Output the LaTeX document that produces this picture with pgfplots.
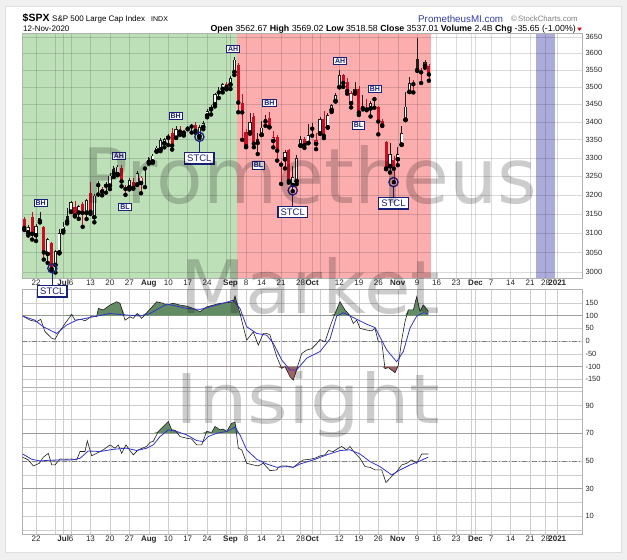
\documentclass[border=0pt]{standalone}
\usepackage{fontspec}
\setmainfont{Liberation Sans}
\newfontfamily\wmfont{DejaVu Sans}
\usepackage{graphicx}
\usepackage{pgfplots}
\pgfplotsset{compat=1.18}
\usepackage{pgfplotstable}
\definecolor{bgc}{RGB}{240,240,240}
\definecolor{shgreen}{RGB}{190,224,184}
\definecolor{shred}{RGB}{252,174,174}
\definecolor{shblue}{RGB}{172,172,218}
\definecolor{cred}{RGB}{200,16,36}
\definecolor{cblk}{RGB}{30,30,30}
\definecolor{navy}{RGB}{24,32,120}
\definecolor{fillg}{RGB}{100,140,100}
\definecolor{fillr}{RGB}{160,100,100}
\definecolor{maBlue}{RGB}{50,50,200}
\definecolor{gridc}{RGB}{205,205,205}
\definecolor{pmblue}{RGB}{50,60,160}

\pgfplotstableread{
x o h l c t
-3 3136.1 3141.2 3108.0 3113.5 3
-2 3101.6 3120.0 3093.5 3115.3 0
-1 3140.3 3155.5 3083.1 3097.7 3
0 3094.4 3120.9 3079.4 3117.9 0
1 3138.7 3154.9 3127.1 3131.3 1
2 3114.4 3115.0 3032.1 3050.3 3
3 3046.6 3086.2 3024.0 3083.8 0
4 3073.2 3073.7 3004.6 3009.1 3
5 3018.6 3053.9 2999.7 3053.2 0
6 3050.2 3111.5 3047.8 3100.3 0
7 3105.9 3128.4 3101.2 3115.9 0
8 3143.6 3165.8 3124.5 3130.0 1
9 3155.3 3182.6 3155.3 3179.7 0
10 3166.4 3184.2 3142.9 3145.3 3
11 3153.1 3171.8 3136.5 3169.9 0
12 3176.2 3179.8 3115.7 3152.1 3
13 3152.5 3186.8 3136.2 3185.0 0
14 3205.1 3235.3 3149.4 3155.2 3
15 3141.1 3200.9 3127.7 3197.5 0
16 3225.9 3238.3 3200.8 3226.6 0
17 3208.4 3220.4 3198.6 3215.6 2
18 3224.2 3233.5 3205.7 3224.7 0
19 3224.3 3258.6 3215.2 3251.8 0
20 3268.5 3277.3 3247.8 3257.3 1
21 3254.9 3279.3 3253.1 3276.0 0
22 3271.6 3279.9 3222.7 3235.7 3
23 3218.6 3227.3 3200.0 3215.6 3
24 3219.8 3241.4 3214.3 3239.4 0
25 3234.3 3243.7 3216.2 3218.4 3
26 3227.2 3264.7 3227.2 3258.4 0
27 3231.8 3250.9 3204.1 3246.2 2
28 3270.5 3272.2 3220.3 3271.1 0
29 3288.3 3302.7 3284.5 3294.6 0
30 3289.9 3306.8 3286.4 3306.5 0
31 3317.4 3330.8 3317.4 3327.8 0
32 3323.2 3351.0 3318.1 3349.2 0
33 3340.1 3352.5 3328.7 3351.3 0
34 3356.0 3363.3 3335.4 3360.5 0
35 3370.3 3382.0 3322.7 3333.7 3
36 3355.5 3387.9 3355.5 3380.4 0
37 3372.9 3387.2 3363.4 3373.4 2
38 3368.7 3378.5 3361.6 3372.9 2
39 3380.9 3387.6 3379.2 3382.0 0
40 3387.0 3395.1 3370.2 3389.8 0
41 3392.5 3399.5 3369.7 3374.9 3
42 3360.5 3390.8 3354.7 3385.5 0
43 3386.0 3399.9 3379.3 3397.2 0
44 3418.1 3432.1 3413.1 3431.3 0
45 3435.9 3444.2 3421.1 3443.6 0
46 3450.0 3481.1 3444.2 3478.7 0
47 3485.1 3501.4 3468.4 3484.6 1
48 3494.7 3509.2 3484.3 3508.0 0
49 3509.7 3514.8 3493.3 3500.3 3
50 3507.4 3528.0 3494.6 3526.7 0
51 3543.8 3588.1 3535.2 3580.8 0
52 3564.7 3564.9 3427.4 3455.1 3
53 3453.6 3479.2 3349.6 3427.0 3
54 3371.9 3380.0 3329.3 3331.8 3
55 3369.8 3424.8 3366.8 3399.0 0
56 3412.6 3425.3 3329.3 3339.2 3
57 3352.7 3369.0 3310.5 3341.0 1
58 3363.6 3402.9 3363.6 3383.5 0
59 3407.7 3419.5 3389.3 3401.2 1
60 3411.2 3428.9 3384.5 3385.5 3
61 3346.9 3375.2 3328.8 3357.0 2
62 3357.4 3362.3 3292.4 3319.5 3
63 3285.6 3285.6 3229.1 3281.1 3
64 3295.8 3320.3 3271.0 3315.6 0
65 3320.1 3323.4 3232.6 3236.9 3
66 3226.1 3278.7 3209.5 3246.6 0
67 3236.7 3306.9 3228.4 3298.5 0
68 3333.9 3360.7 3332.9 3351.6 0
69 3350.9 3357.9 3327.5 3335.5 3
70 3341.2 3393.6 3340.5 3363.0 0
71 3385.9 3397.2 3361.4 3380.8 1
72 3338.9 3369.1 3323.7 3348.4 2
73 3367.3 3409.6 3367.3 3408.6 0
74 3408.7 3431.6 3354.5 3361.0 3
75 3384.6 3426.3 3384.6 3419.4 0
76 3434.3 3447.3 3428.2 3446.8 0
77 3459.7 3482.3 3458.1 3477.1 0
78 3500.0 3549.9 3499.6 3534.2 0
79 3534.0 3534.0 3500.9 3511.9 3
80 3515.5 3527.9 3480.6 3488.7 3
81 3453.7 3489.1 3441.4 3483.3 2
82 3493.5 3515.8 3480.5 3483.8 1
83 3493.7 3502.4 3419.9 3426.9 3
84 3439.4 3476.9 3435.7 3443.1 0
85 3439.9 3464.9 3433.1 3435.6 3
86 3438.5 3460.5 3415.3 3453.5 0
87 3464.9 3466.5 3440.5 3465.4 0
88 3441.4 3441.4 3364.9 3401.0 3
89 3403.2 3409.5 3388.7 3390.7 3
90 3342.5 3342.5 3268.9 3271.0 3
91 3277.2 3341.1 3259.8 3310.1 0
92 3293.6 3304.9 3233.9 3270.0 3
93 3296.2 3330.1 3279.7 3310.2 0
94 3336.3 3389.5 3336.3 3369.2 0
95 3406.5 3486.3 3405.2 3443.4 0
96 3485.7 3529.1 3485.7 3510.5 0
97 3508.3 3521.6 3484.3 3509.4 2
98 3583.0 3646.0 3547.5 3550.5 1
99 3543.3 3557.2 3511.9 3545.5 2
100 3563.2 3581.2 3557.0 3572.7 0
101 3562.7 3569.0 3518.6 3537.0 3
}\candles

\pgfplotstableread{
x y
-3.42 98
-1.54 82
0.18 76
1.21 85
2.31 37
4.04 11
4.88 7
5.73 30
7.46 69
9.18 104
10.03 82
11.75 85
12.6 79
14.32 98
15.6 95
16.02 128
17.3 122
19.02 141
20.75 154
21.59 148
22.88 82
24.16 95
25.01 89
26.04 108
27.17 89
28.46 111
31.03 154
32.65 148
33.6 141
35.22 148
37.02 141
38.74 137
40.36 128
42.16 115
43.88 134
47.3 148
49.02 150
50.72 154
51.16 176
52.44 109
53.29 56
54.16 4
55.86 36
57.15 -16
58.43 30
59.31 30
60.15 24
61.88 -61
63.16 -107
64.01 -100
65.3 -140
66.14 -153
67.43 -90
68.3 -49
69.59 -35
70.87 -30
72.16 -10
73.01 6
74.29 -3
75.58 56
76.86 108
78.15 154
79.43 122
80.72 100
81.57 69
82.44 82
83.29 50
85.01 43
86.3 40
87.15 50
88 -3
88.87 -3
89.72 -108
90.57 -104
91.44 -114
92.29 -124
93.14 -94
94.01 4
94.86 76
95.71 122
97 122
97.87 174
98.71 117
99.56 141
100.85 117
}\cciK

\pgfplotstableread{
x y
-3.42 98
-0.33 82
1.88 56
5.32 30
7.89 63
10.46 82
14.74 95
19.02 108
23.32 102
26.74 98
29.31 108
33.6 145
38.74 128
42.16 124
46.45 141
50.72 160
52.44 128
54.16 56
56.74 30
59.31 23
61.01 -9
63.16 -74
65.3 -113
67.02 -113
69.59 -67
73.01 -41
75.58 8
77.3 98
79 111
81.57 92
85.01 66
87.15 53
90.17 -35
92.72 -81
94.43 -41
96.14 51
97.87 98
99.56 111
100.85 107
}\cciB

\pgfplotstableread{
x y
-3.42 52.7
-1.98 50.7
-0.69 46.4
0.85 48.3
1.88 52.7
3.16 55.5
4.04 47.1
4.88 47.1
6.17 51.4
7.89 51.2
9.18 51.4
10.46 50.7
11.31 56.8
12.6 56.8
13.19 64.5
14.32 53.7
16.02 56.1
17.3 58
19.02 61.6
20.31 59.2
21.16 61.6
22.03 55.5
23.14 61.6
24.16 57.5
25.01 54.4
26.3 58
28.46 60.5
29.31 63.4
30.15 64.2
31.44 71.3
32.72 74.9
34.01 78.5
34.88 72.5
35.73 72.2
37.02 67.6
38.74 66.4
40.03 65.8
41.31 61.6
42.6 61.6
43.88 71.3
45.17 70.6
46.02 74.9
47.3 72.5
48.15 73
49.02 71.3
50.31 77.3
51.16 77.8
52.01 59.2
52.88 58
54.16 48.3
55.86 47.1
57.15 46.4
58.43 48.3
60.15 43
61.88 43.5
62.29 45.4
63.16 46.4
64.45 46.4
66.14 45.4
67.43 48.3
68.71 50.7
70.44 51.2
71.72 52
73.01 53.6
74.29 54.4
75.14 57.5
76.43 56.8
77.71 59.2
78.59 60.4
79.87 58
80.72 60.4
82.01 55.5
83.29 51.9
84.58 45.9
85.86 45.4
87.15 43.5
88.87 43.5
89.97 34.4
91 37.5
92.72 42.3
94.01 47.1
95.3 48.3
96.58 50.7
97.87 48.3
99.15 55
100.85 55
}\rsiK

\pgfplotstableread{
x y
-3.42 55
-1.1 51.2
1.03 50
3.6 50.5
6.17 50.7
9.18 50.7
11.31 51.9
13.44 57.2
16.45 56.8
19.87 58.4
23.32 59.2
25.89 57.5
28.46 59.2
30.15 61.6
31.88 67.6
34.01 72.5
36.17 71.3
38.74 68.8
41.31 64.7
43.01 64
44.29 67.6
46.45 70
49.02 71.3
51.16 74.4
52.44 68.8
54.16 58
56.74 51.2
59.31 47.8
61.88 45.4
64.45 45.9
66.14 45.4
67.87 47.8
71.29 50.7
74.73 54.4
78.15 57.5
80.72 58
83.29 55
85.86 49.5
88.43 45.9
91.44 39.9
93.57 43.5
96.14 47.1
98.28 49.5
100.85 52.7
}\rsiB

\pgfplotsset{
  panel/.style={
    scale only axis, width=560pt, set layers,
    xmin=-3.6, xmax=140.36,
    axis line style={draw=gray!60},
    major tick length=0pt, minor tick length=0pt,
    grid=major,
    grid style={gridc, line width=0.45pt},
    yticklabel pos=right,
    yticklabel style={font=\fontsize{7.5}{9}\selectfont, text=black!85},
    xticklabel style={font=\fontsize{8}{9}\selectfont, text=black!85, inner sep=1.5pt},
    /pgf/number format/assume math mode=true,
    xtick={0,7,9,14,19,24,29,34,39,44,50,54,58,63,68,71,78,83,88,93,98,103,108,113,117,122,127,131,134},
    extra x ticks={5,49,73,112},
    extra x tick labels={,,,},
    extra x tick style={grid=major},
  },
  datelab/.style={
    xticklabels={22,\textbf{Jul},6,13,20,27,\textbf{Aug},10,17,24,\textbf{Sep},8,14,21,28,\textbf{Oct},12,19,26,\textbf{Nov},9,16,23,\textbf{Dec},7,14,21,28,\textbf{2021}},
  },
}

\begin{document}
\begin{tikzpicture}
% grey surround (frame only, the card area stays white page)
\fill[bgc] (0pt,0pt) rectangle (627pt,-6pt);
\fill[bgc] (0pt,-552pt) rectangle (627pt,-560pt);
\fill[bgc] (0pt,-6pt) rectangle (5pt,-552pt);
\fill[bgc] (621pt,-6pt) rectangle (627pt,-552pt);
\draw[gray!25, line width=0.5pt] (5pt,-6pt) rectangle (621pt,-552pt);

% ---------- price panel ----------
\begin{axis}[panel, datelab, at={(22pt,-33pt)}, anchor=north west, height=245pt,
  ymode=log, ymin=2986, ymax=3661, clip=false,
  grid style={black, opacity=0.14, line width=0.45pt},
  ytick={3000,3050,3100,3150,3200,3250,3300,3350,3400,3450,3500,3550,3600,3650},
  yticklabels={3000,3050,3100,3150,3200,3250,3300,3350,3400,3450,3500,3550,3600,3650}]
\addplot[on layer=axis background, draw=none, fill=shgreen, forget plot] coordinates {(-3.6,2986) (51.7,2986) (51.7,3661) (-3.6,3661)};
\addplot[on layer=axis background, draw=none, fill=shred, forget plot] coordinates {(51.7,2986) (101.5,2986) (101.5,3661) (51.7,3661)};
\addplot[on layer=axis background, draw=none, fill=shblue, forget plot] coordinates {(128.5,2986) (133.4,2986) (133.4,3661) (128.5,3661)};
% wicks
\addplot[only marks, mark=none, forget plot, restrict expr to domain={\thisrow{t}}{0:1},
  error bars/.cd, y dir=plus, y explicit, error mark=none,
  error bar style={line width=0.7pt, cblk}]
  table[x=x, y=l, y error expr=\thisrow{h}-\thisrow{l}] {\candles};
\addplot[only marks, mark=none, forget plot, restrict expr to domain={\thisrow{t}}{2:3},
  error bars/.cd, y dir=plus, y explicit, error mark=none,
  error bar style={line width=0.7pt, cred}]
  table[x=x, y=l, y error expr=\thisrow{h}-\thisrow{l}] {\candles};
% bodies
\addplot[only marks, mark=none, forget plot, restrict expr to domain={\thisrow{t}}{0:1},
  error bars/.cd, y dir=both, y explicit, error mark=-,
  error mark options={cblk, line width=0.6pt, mark size=1.6pt},
  error bar style={line width=3.2pt, cblk}]
  table[x=x, y expr={min(\thisrow{o},\thisrow{c})}, y error plus expr={abs(\thisrow{o}-\thisrow{c})}, y error minus expr=0] {\candles};
\addplot[only marks, mark=none, forget plot, restrict expr to domain={\thisrow{t}}{2:3},
  error bars/.cd, y dir=both, y explicit, error mark=-,
  error mark options={cred, line width=0.6pt, mark size=1.6pt},
  error bar style={line width=3.2pt, cred}]
  table[x=x, y expr={min(\thisrow{o},\thisrow{c})}, y error plus expr={abs(\thisrow{o}-\thisrow{c})}, y error minus expr=0] {\candles};
% hollow interiors
\addplot[only marks, mark=none, forget plot,
  restrict expr to domain={(mod(\thisrow{t},2)==0)*(abs(\thisrow{o}-\thisrow{c})>4)}{1:1},
  error bars/.cd, y dir=plus, y explicit, error mark=none,
  error bar style={line width=1.7pt, white, shorten <=0.7pt, shorten >=0.7pt}]
  table[x=x, y expr={min(\thisrow{o},\thisrow{c})}, y error expr={abs(\thisrow{o}-\thisrow{c})}] {\candles};
% STCL connectors
\addplot[navy, line width=1.2pt, forget plot] coordinates {(4.2,2998.8) (4.2,2953)};
\addplot[navy, line width=1.2pt, forget plot] coordinates {(42,3345.8) (42,3298.5)};
\addplot[navy, line width=1.2pt, forget plot] coordinates {(66,3199.8) (66,3155)};
\addplot[navy, line width=1.2pt, forget plot] coordinates {(91.9,3222) (91.9,3177.3)};
\addplot[only marks, mark=o, mark size=4.6pt, mark options={navy, line width=1.3pt}, forget plot]
  coordinates {(4.2,3010) (42,3358.3) (66,3211.8) (91.9,3234)};
% labels
\addplot[only marks, mark=none, forget plot, nodes near coords, point meta=explicit symbolic,
  every node near coord/.style={anchor=center, draw=navy, line width=0.8pt, fill=white, text=navy,
    font=\fontsize{7}{8}\selectfont\bfseries, inner xsep=1.6pt, inner ysep=1.3pt}]
  table[x=x, y=y, meta=lab] {
x y lab
1.2 3178.9 BH
21.3 3304.8 AH
22.9 3168.3 BL
35.9 3416.5 BH
50.7 3612.5 AH
57.2 3279.3 BL
60 3454.6 BH
78.2 3576.6 AH
82.9 3390 BL
87.1 3494.9 BH
};
\addplot[only marks, mark=none, forget plot, nodes near coords, point meta=explicit symbolic,
  every node near coord/.style={anchor=center, draw=navy, line width=1.3pt, fill=white, text=navy,
    font=\fontsize{9.5}{11}\selectfont, inner xsep=2.6pt, inner ysep=2.2pt}]
  table[x=x, y=y, meta=lab] {
x y lab
4.2 2953 STCL
42 3298.5 STCL
66 3155 STCL
91.9 3177.3 STCL
};
\end{axis}

% ---------- CCI panel ----------
\begin{axis}[panel, at={(22pt,-289pt)}, anchor=north west, height=98pt,
  ymin=-180, ymax=204, ytick={-150,-100,-50,0,50,100,150}, xticklabel={\relax}]
\addplot[gray!75, line width=0.9pt, forget plot] coordinates {(-3.6,100) (140.36,100)};
\addplot[gray!75, line width=0.9pt, forget plot] coordinates {(-3.6,-100) (140.36,-100)};
\addplot[gray, line width=0.6pt, dash pattern=on 5pt off 2pt on 1pt off 2pt, forget plot] coordinates {(-3.6,0) (140.36,0)};
% zones beyond +100 / -100
\addplot[fill=fillg, draw=none, forget plot] table[x=x, y expr={max(\thisrow{y},100)}] {\cciK}
  -- (axis cs:100.85,100) -- (axis cs:-3.42,100) -- cycle;
\addplot[fill=fillr, draw=none, forget plot] table[x=x, y expr={min(\thisrow{y},-100)}] {\cciK}
  -- (axis cs:100.85,-100) -- (axis cs:-3.42,-100) -- cycle;
\addplot[cblk, line width=0.6pt, forget plot] table {\cciK};
\addplot[maBlue, line width=0.8pt, forget plot] table {\cciB};
\end{axis}

% ---------- RSI panel ----------
\begin{axis}[panel, datelab, at={(22pt,-387pt)}, anchor=north west, height=147.3pt,
  ymin=-3, ymax=103.4, ytick={10,30,50,70,90}, minor ytick={0,20,40,60,80,100},
  grid=both, minor grid style={gridc, line width=0.45pt}]
\addplot[gray!75, line width=0.9pt, forget plot] coordinates {(-3.6,70) (140.36,70)};
\addplot[gray!75, line width=0.9pt, forget plot] coordinates {(-3.6,30) (140.36,30)};
\addplot[gray, line width=0.6pt, dash pattern=on 5pt off 2pt on 1pt off 2pt, forget plot] coordinates {(-3.6,50) (140.36,50)};
\addplot[fill=fillg, draw=none, forget plot] table[x=x, y expr={max(\thisrow{y},70)}] {\rsiK}
  -- (axis cs:100.85,70) -- (axis cs:-3.42,70) -- cycle;
\addplot[cblk, line width=0.6pt, forget plot] table {\rsiK};
\addplot[maBlue, line width=0.8pt, forget plot] table {\rsiB};
\end{axis}

% ---------- header ----------
\node[anchor=base west, inner sep=0] at (22.5pt,-21pt) {\fontsize{10.5}{12}\selectfont\bfseries \$SPX};
\node[anchor=base west, inner sep=0] at (52pt,-21pt) {\fontsize{8}{9}\selectfont S\&P 500 Large Cap Index};
\node[anchor=base west, inner sep=0] at (151pt,-21pt) {\fontsize{7}{8}\selectfont INDX};
\node[anchor=base west, inner sep=0] at (23pt,-31.5pt) {\fontsize{8}{9}\selectfont 12-Nov-2020};
\node[anchor=base west, inner sep=0, text=pmblue] at (418pt,-22pt) {\fontsize{9.8}{11}\selectfont PrometheusMI.com};
\node[anchor=base west, inner sep=0, text=gray] at (511pt,-21.5pt) {\fontsize{7.8}{9}\selectfont ©\,StockCharts.com};
\node[anchor=base east, inner sep=0] at (576pt,-31.5pt) {\fontsize{8.8}{10}\selectfont \textbf{Open} 3562.67 \textbf{High} 3569.02 \textbf{Low} 3518.58 \textbf{Close} 3537.01 \textbf{Volume} 2.4B \textbf{Chg} -35.65 (-1.00\%)};
\fill[cred] (577pt,-27.5pt) -- (582pt,-27.5pt) -- (579.5pt,-31pt) -- cycle;

% ---------- watermark ----------
\node[anchor=base west, inner sep=0, text=black, opacity=0.2] at (82pt,-203pt) {\resizebox{455pt}{58pt}{\wmfont Prometheus}};
\node[anchor=base west, inner sep=0, text=black, opacity=0.2] at (180pt,-313pt) {\resizebox{260pt}{56pt}{\wmfont Market}};
\node[anchor=base west, inner sep=0, text=black, opacity=0.2] at (175pt,-423pt) {\resizebox{265pt}{52pt}{\wmfont Insight}};

\pgfresetboundingbox
\useasboundingbox (0pt,0pt) rectangle (627pt,-560pt);
\end{tikzpicture}
\end{document}
